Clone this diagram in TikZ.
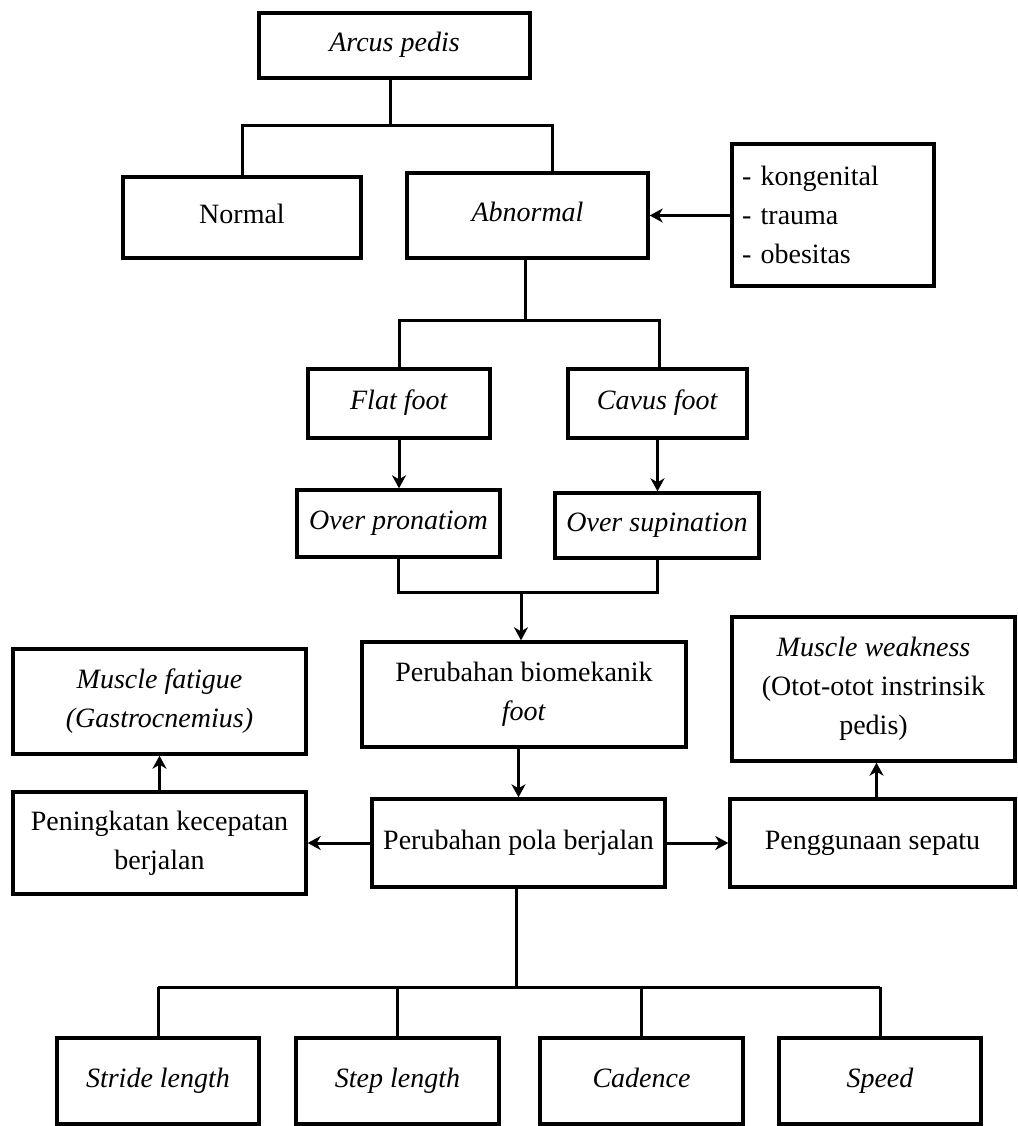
\documentclass[tikz,border=0pt]{standalone}
\usepackage{fontspec}
\setmainfont{Liberation Serif}
\usetikzlibrary{arrows.meta}

\begin{document}
\begin{tikzpicture}[x=1pt,y=-1pt,
    box/.style={draw,line width=3.4pt,inner sep=0pt,align=center,
      font=\fontsize{28}{39}\selectfont},
    oneline/.style={box,text height=19pt,text depth=7pt},
    link/.style={line width=3pt},
    pointer/.style={link,-{Stealth[length=13pt,width=14pt,inset=4pt]}}]
  \useasboundingbox (0,0) rectangle (1017,1126);
  \draw
    (394.5,45.5) node[oneline,minimum width=271pt,minimum height=65pt] (arcus){\textit{Arcus pedis}}
    (242,217.5) node[oneline,minimum width=238pt,minimum height=81pt] (normal){Normal}
    (527.5,215.5) node[oneline,minimum width=241pt,minimum height=85pt] (abnormal){\textit{Abnormal}}
    (833,215) node[box,text width=182pt,inner xsep=10pt,minimum height=142pt,align=left] (faktor){- kongenital\\- trauma\\- obesitas}
    (399,403.5) node[oneline,minimum width=182pt,minimum height=69pt] (flat){\textit{Flat foot}}
    (657.5,403.5) node[oneline,minimum width=179pt,minimum height=69pt] (cavus){\textit{Cavus foot}}
    (398.5,523.5) node[oneline,minimum width=203pt,minimum height=67pt] (pronasi){\textit{Over pronatiom}}
    (657,525.5) node[oneline,minimum width=204pt,minimum height=65pt] (supinasi){\textit{Over supination}}
    (524,694.5) node[box,minimum width=324pt,minimum height=105pt] (biomek){Perubahan biomekanik\\\textit{foot}}
    (159.5,701.5) node[box,minimum width=293pt,minimum height=105pt] (fatigue){\textit{Muscle fatigue}\\\textit{(Gastrocnemius)}}
    (873.5,689) node[box,minimum width=283pt,minimum height=144pt] (weakness){\textit{Muscle weakness}\\(Otot-otot instrinsik\\pedis)}
    (159.5,843) node[box,minimum width=293pt,minimum height=102pt] (kecepatan){Peningkatan kecepatan\\berjalan}
    (518.5,843) node[oneline,minimum width=293pt,minimum height=88pt] (pola){Perubahan pola berjalan}
    (872.5,843) node[oneline,minimum width=285pt,minimum height=88pt] (sepatu){Penggunaan sepatu}
    (158,1081) node[oneline,minimum width=202pt,minimum height=86pt] (stride){\textit{Stride length}}
    (397.5,1081) node[oneline,minimum width=203pt,minimum height=86pt] (steplen){\textit{Step length}}
    (641.5,1081) node[oneline,minimum width=203pt,minimum height=86pt] (cadence){\textit{Cadence}}
    (880,1081) node[oneline,minimum width=202pt,minimum height=86pt] (speed){\textit{Speed}};
  \coordinate (split1) at (390,126);
  \coordinate (split2) at (525,320);
  \coordinate (split3) at (521,592);
  \coordinate (split4) at (516,987);
  \begin{scope}[link]
    \draw (arcus.south -| split1) -- (split1);
    \draw (normal.north) |- (split1) -| ([xshift=25pt]abnormal.north);
    \draw (abnormal.south -| split2) -- (split2);
    \draw (flat.north) |- (split2) -| ([xshift=2pt]cavus.north);
    \draw (pronasi.south) |- (split3) -| (supinasi.south);
    \draw (pola.south -| split4) -- (split4);
    \draw (stride.north |- split4) -- (speed.north |- split4);
    \foreach \n in {stride,steplen,cadence,speed}
      \draw (\n.north) -- (\n.north |- split4);
  \end{scope}
  \begin{scope}[pointer]
    \draw (faktor.west |- abnormal.east) -- (abnormal.east);
    \draw (flat.south) -- (flat.south |- pronasi.north);
    \draw (cavus.south) -- (cavus.south |- supinasi.north);
    \draw (split3) -- (split3 |- biomek.north);
    \draw (pola.north |- biomek.south) -- (pola.north);
    \draw (pola.west) -- (kecepatan.east);
    \draw (pola.east) -- (sepatu.west);
    \draw (kecepatan.north) -- (fatigue.south);
    \draw ([xshift=4pt]sepatu.north) -- ([xshift=4pt]sepatu.north |- weakness.south);
  \end{scope}
\end{tikzpicture}
\end{document}
